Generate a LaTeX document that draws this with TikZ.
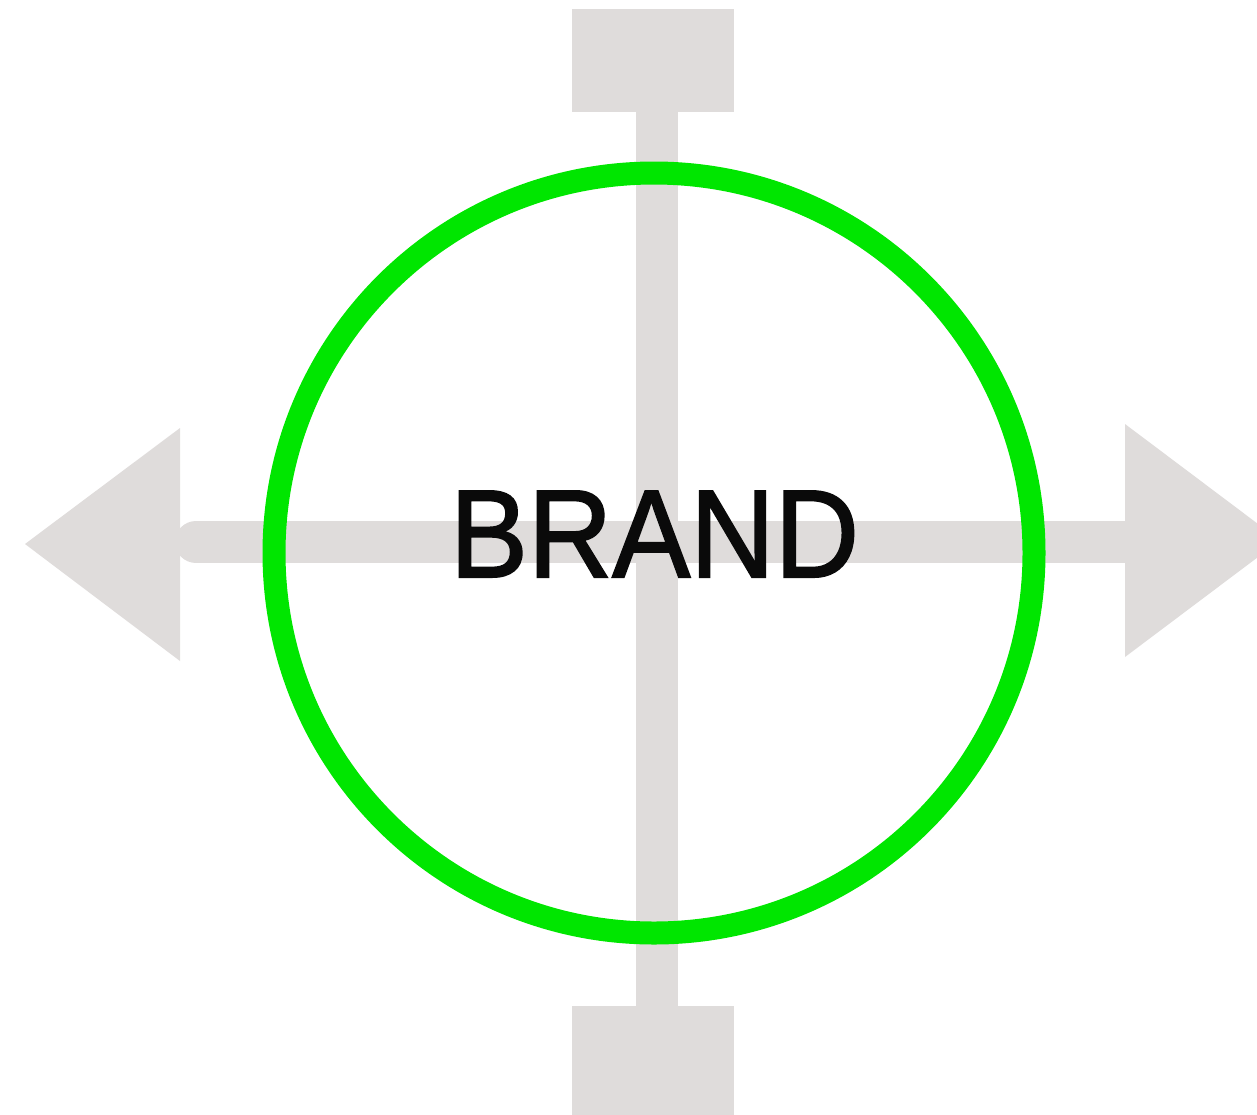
\documentclass[tikz,border=0pt]{standalone}
\usepackage{fontspec}
\setmainfont{Liberation Sans}
\newfontfamily\brandfont[FakeBold=1.6]{Liberation Sans}
\definecolor{bargray}{HTML}{DFDCDB}
\definecolor{ringgreen}{HTML}{00E600}
\definecolor{inkblack}{HTML}{0A0A0A}
\begin{document}
\begin{tikzpicture}[x=1pt,y=-1pt,
  bar/.style={draw=bargray,line width=42pt},
  endbox/.style={fill=bargray,draw=none,rectangle,inner sep=0pt,minimum width=162pt,minimum height=103pt},
  headtri/.style={fill=bargray,draw=none},
  ring/.style={draw=ringgreen,line width=23pt,circle,inner sep=0pt,minimum size=760pt},
  label/.style={text=inkblack,font=\brandfont\fontsize{125}{125}\selectfont,inner sep=0pt,xscale=0.935}]
\useasboundingbox (0,0) rectangle (1257,1114);
% horizontal bar
\coordinate (hl) at (196,542);
\coordinate (hr) at (1130,542);
\draw[bar,line cap=round] (hl) -- (hr);
% arrow heads
\fill[headtri] (180,428) -- (25,544) -- (180,661) -- cycle;
\fill[headtri] (1125,424) -- (1280,540.5) -- (1125,657) -- cycle;
% end boxes
\node[endbox] (topbox) at (653,60.5) {};
\node[endbox,minimum height=112pt] (botbox) at (653,1062) {};
% vertical bar
\draw[bar] (656.5,100) -- (656.5,1015);
% ring
\node[ring] (ringc) at (654,553) {};
% text
\node[label,anchor=base] (brand) at (654.5,577) {BRAND};
\end{tikzpicture}
\end{document}
